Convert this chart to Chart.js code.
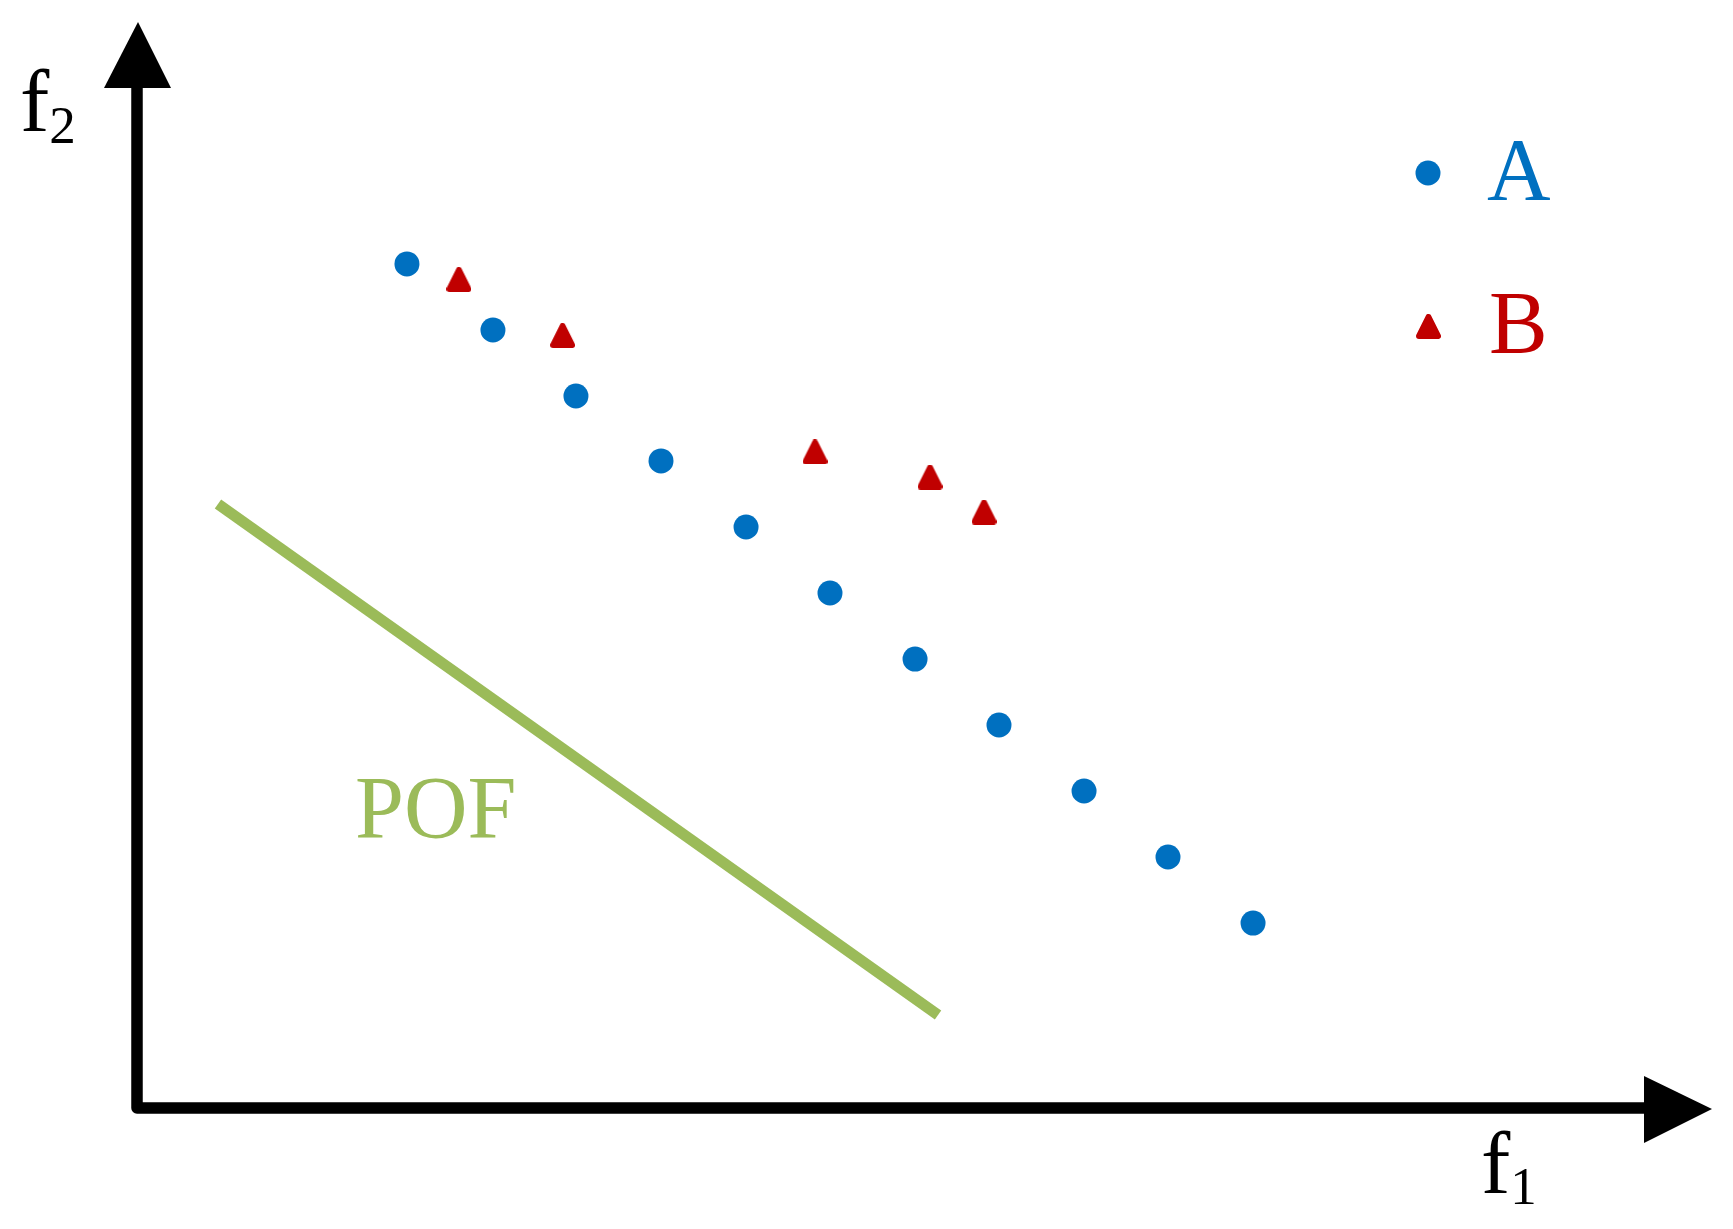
<!DOCTYPE html>
<html><head><meta charset="utf-8">
<script src="https://cdn.jsdelivr.net/npm/chart.js@4/dist/chart.umd.min.js"></script>
<style>html,body{margin:0;padding:0;background:#fff;}canvas{display:block;}
#fp{position:absolute;left:-9999px;top:0;font-family:"Liberation Serif","Times New Roman",Times,serif;font-size:88px;}</style>
</head><body>
<div id="fp">f POF AB 12</div>
<canvas id="c" width="1733" height="1229"></canvas>
<script>
// ---- data (arbitrary 0-100 units) ----
const seriesNames = ['A', 'B'];
const aX = [17.14, 22.60, 27.87, 33.27, 38.67, 44.00, 49.40, 54.73, 60.13, 65.46, 70.86];
const aY = [77.72, 71.64, 65.56, 59.58, 53.50, 47.42, 41.34, 35.27, 29.19, 23.11, 17.03];
const bX = [20.44, 27.02, 43.05, 50.35, 53.78];
const bY = [76.29, 71.13, 60.41, 58.10, 54.88];
const pofX = [5.14, 50.86];
const pofY = [55.62, 8.56];
const pofLabel = 'POF';
const xTitle = ['f', '1'];
const yTitle = ['f', '2'];

const BLUE = '#0070C0', RED = '#C00000', GREEN = '#9BBB59';
const SERIF = '"Liberation Serif", "Times New Roman", Times, serif';
const toPts = (xs, ys) => xs.map((x, i) => ({x: x, y: ys[i]}));

// rounded triangle marker
function makeTriangle(color) {
  const c = document.createElement('canvas');
  c.width = 25; c.height = 25;
  const g = c.getContext('2d');
  g.fillStyle = color; g.strokeStyle = color;
  g.lineWidth = 6; g.lineJoin = 'round';
  g.beginPath();
  g.moveTo(12.5, 3); g.lineTo(22, 22); g.lineTo(3, 22); g.closePath();
  g.fill(); g.stroke();
  return c;
}

const deco = {
  id: 'deco',
  beforeDatasetsDraw(chart) {
    const ctx = chart.ctx, xs = chart.scales.x, ys = chart.scales.y;
    const x0 = xs.getPixelForValue(0), y0 = ys.getPixelForValue(0);
    const top = chart.chartArea.top, right = chart.chartArea.right;
    ctx.save();
    ctx.strokeStyle = '#000'; ctx.fillStyle = '#000';
    ctx.lineWidth = 11.5; ctx.lineJoin = 'round'; ctx.lineCap = 'butt';
    ctx.beginPath();
    ctx.moveTo(x0, top + 66);
    ctx.lineTo(x0, y0);
    ctx.lineTo(right - 68, y0);
    ctx.stroke();
    ctx.beginPath();
    ctx.moveTo(x0 + 1, top); ctx.lineTo(x0 - 33, top + 66); ctx.lineTo(x0 + 34, top + 66); ctx.closePath(); ctx.fill();
    ctx.beginPath();
    ctx.moveTo(right, y0 + 1); ctx.lineTo(right - 68, y0 - 32); ctx.lineTo(right - 68, y0 + 35); ctx.closePath(); ctx.fill();
    ctx.restore();
  },
  afterDraw(chart) {
    const ctx = chart.ctx;
    ctx.save();
    ctx.textAlign = 'left'; ctx.textBaseline = 'alphabetic';
    ctx.fillStyle = '#000';
    ctx.font = '88px ' + SERIF;
    ctx.fillText(yTitle[0], 20, 131);
    const w = ctx.measureText(yTitle[0]).width;
    ctx.fillText(xTitle[0], 1481, 1193);
    const w1 = ctx.measureText(xTitle[0]).width;
    ctx.font = '53px ' + SERIF;
    ctx.fillText(yTitle[1], 20 + w, 143);
    ctx.fillText(xTitle[1], 1481 + w1, 1204);
    ctx.fillStyle = GREEN;
    ctx.font = '88px ' + SERIF;
    ctx.fillText(pofLabel, 355, 837);
    const ds = chart.data.datasets;
    const items = [{d: ds[0], x: 1428, y: 173, tx: 1487, ty: 199, col: BLUE},
                   {d: ds[1], x: 1428.5, y: 326.5, tx: 1489, ty: 352, col: RED}];
    items.forEach(it => {
      ctx.fillStyle = it.col; ctx.strokeStyle = it.col;
      ctx.lineWidth = it.d.borderWidth;
      Chart.helpers.drawPoint(ctx, {pointStyle: it.d.pointStyle, radius: it.d.pointRadius, rotation: 0, borderWidth: it.d.borderWidth}, it.x, it.y);
      ctx.fillStyle = it.col;
      ctx.font = '88px ' + SERIF;
      ctx.fillText(it.d.label, it.tx, it.ty);
    });
    ctx.restore();
  }
};

function build() {
  new Chart(document.getElementById('c'), {
    type: 'scatter',
    data: {
      datasets: [
        {label: seriesNames[0], data: toPts(aX, aY), pointStyle: 'circle', pointRadius: 12.5,
         backgroundColor: BLUE, borderColor: BLUE, borderWidth: 0, clip: false},
        {label: seriesNames[1], data: toPts(bX, bY), pointStyle: makeTriangle(RED), pointRadius: 13,
         backgroundColor: RED, borderColor: RED, borderWidth: 0, clip: false},
        {label: pofLabel, data: toPts(pofX, pofY), showLine: true, pointRadius: 0,
         borderColor: GREEN, backgroundColor: GREEN, borderWidth: 11, borderCapStyle: 'butt', clip: false}
      ]
    },
    options: {
      responsive: false,
      animation: false,
      events: [],
      layout: {padding: {left: 137, right: 21, top: 22, bottom: 121}},
      plugins: {legend: {display: false}, tooltip: {enabled: false}},
      scales: {
        x: {type: 'linear', min: 0, max: 100, display: false},
        y: {type: 'linear', min: 0, max: 100, display: false}
      }
    },
    plugins: [deco]
  });
}

if (document.fonts && document.fonts.load) {
  Promise.all([document.fonts.load('88px "Liberation Serif"'), document.fonts.load('53px "Liberation Serif"')])
    .then(build, build);
} else { build(); }
</script>
</body></html>
